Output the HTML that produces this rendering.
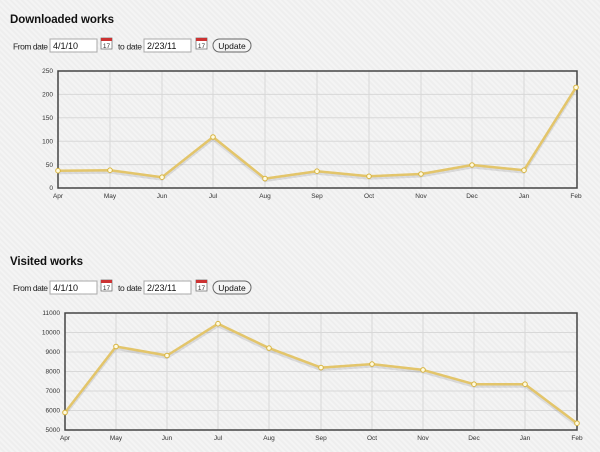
<!DOCTYPE html><html><head><style>
body{margin:0;width:600px;height:452px;overflow:hidden;background:#f1f1f1;background-image:repeating-linear-gradient(45deg,#f4f4f4 0 2px,#eeeeee 2px 4px);font-family:"Liberation Sans",sans-serif}
svg{position:absolute;left:0;top:0}
</style></head><body>
<svg width="600" height="452" xmlns="http://www.w3.org/2000/svg" font-family="Liberation Sans, sans-serif">
<defs><g id="cal"><rect x="0" y="0" width="11" height="11" fill="#fff" stroke="#777" stroke-width="0.8"/><rect x="0" y="0" width="11" height="3" fill="#c33"/><text x="5.5" y="9.8" font-size="6.5" text-anchor="middle" fill="#333">17</text></g></defs>
<text x="10" y="23" font-size="11.5" font-weight="bold" fill="#111" textLength="104">Downloaded works</text>
<text x="13" y="49.5" font-size="8.5" fill="#222" textLength="35">From date</text>
<rect x="50" y="39" width="47" height="13" fill="#fff" stroke="#aaa"/><text x="53" y="49" font-size="9" fill="#111">4/1/10</text>
<use href="#cal" x="101" y="38"/>
<text x="118" y="49.5" font-size="8.5" fill="#222" textLength="24">to date</text>
<rect x="144" y="39" width="47" height="13" fill="#fff" stroke="#aaa"/><text x="147" y="49" font-size="9" fill="#111">2/23/11</text>
<use href="#cal" x="196" y="38"/>
<rect x="213" y="39" width="38" height="13" rx="6.5" fill="#f4f4f4" stroke="#666"/><text x="232" y="49" font-size="8.5" text-anchor="middle" fill="#111">Update</text>

<text x="10" y="265" font-size="11.5" font-weight="bold" fill="#111" textLength="73">Visited works</text>
<text x="13" y="291" font-size="8.5" fill="#222" textLength="35">From date</text>
<rect x="50" y="281" width="47" height="13" fill="#fff" stroke="#aaa"/><text x="53" y="291" font-size="9" fill="#111">4/1/10</text>
<use href="#cal" x="101" y="280"/>
<text x="118" y="291" font-size="8.5" fill="#222" textLength="24">to date</text>
<rect x="144" y="281" width="47" height="13" fill="#fff" stroke="#aaa"/><text x="147" y="291" font-size="9" fill="#111">2/23/11</text>
<use href="#cal" x="196" y="280"/>
<rect x="213" y="281" width="38" height="13" rx="6.5" fill="#f4f4f4" stroke="#666"/><text x="232" y="291" font-size="8.5" text-anchor="middle" fill="#111">Update</text>

<!-- chart 1 -->
<g stroke="#d8d8d8" stroke-width="1">
<path d="M58 94.4H577M58 117.8H577M58 141.2H577M58 164.6H577"/>
<path d="M110 71V188M162 71V188M213 71V188M265 71V188M317 71V188M369 71V188M421 71V188M472 71V188M524 71V188"/>
</g>
<rect x="58" y="71" width="519" height="117" fill="none" stroke="#444" stroke-width="1.5"/>
<g font-size="6.5" fill="#333" text-anchor="end"><text x="53" y="73">250</text><text x="53" y="96.5">200</text><text x="53" y="120">150</text><text x="53" y="143.5">100</text><text x="53" y="167">50</text><text x="53" y="190">0</text></g>
<g font-size="6.5" fill="#333" text-anchor="middle"><text x="58" y="198">Apr</text><text x="110" y="198">May</text><text x="162" y="198">Jun</text><text x="213" y="198">Jul</text><text x="265" y="198">Aug</text><text x="317" y="198">Sep</text><text x="369" y="198">Oct</text><text x="421" y="198">Nov</text><text x="472" y="198">Dec</text><text x="524" y="198">Jan</text><text x="576" y="198">Feb</text></g>
<polyline points="58,172.7 110,172.2 162,179.2 213,139 265,180.6 317,173.2 369,178.3 421,176 472,167 524,172.2 576,89.4" fill="none" stroke="#000" stroke-opacity="0.1" stroke-width="3"/>
<polyline points="58,170.7 110,170.2 162,177.2 213,137 265,178.6 317,171.2 369,176.3 421,174 472,165 524,170.2 576,87.4" fill="none" stroke="#e3c56a" stroke-width="2.5" stroke-linejoin="round"/>
<g fill="#fffbe0" stroke="#d8b441" stroke-width="1"><circle cx="58" cy="170.7" r="2.3"/><circle cx="110" cy="170.2" r="2.3"/><circle cx="162" cy="177.2" r="2.3"/><circle cx="213" cy="137" r="2.3"/><circle cx="265" cy="178.6" r="2.3"/><circle cx="317" cy="171.2" r="2.3"/><circle cx="369" cy="176.3" r="2.3"/><circle cx="421" cy="174" r="2.3"/><circle cx="472" cy="165" r="2.3"/><circle cx="524" cy="170.2" r="2.3"/><circle cx="576" cy="87.4" r="2.3"/></g>

<!-- chart 2 -->
<g stroke="#d8d8d8" stroke-width="1">
<path d="M65 332.5H577M65 352H577M65 371.5H577M65 391H577M65 410.5H577"/>
<path d="M116 313V430M167 313V430M218 313V430M269 313V430M321 313V430M372 313V430M423 313V430M474 313V430M525 313V430"/>
</g>
<rect x="65" y="313" width="512" height="117" fill="none" stroke="#444" stroke-width="1.5"/>
<g font-size="6.5" fill="#333" text-anchor="end"><text x="60" y="315">11000</text><text x="60" y="334.5">10000</text><text x="60" y="354">9000</text><text x="60" y="373.5">8000</text><text x="60" y="393">7000</text><text x="60" y="412.5">6000</text><text x="60" y="432">5000</text></g>
<g font-size="6.5" fill="#333" text-anchor="middle"><text x="65" y="440">Apr</text><text x="116" y="440">May</text><text x="167" y="440">Jun</text><text x="218" y="440">Jul</text><text x="269" y="440">Aug</text><text x="321" y="440">Sep</text><text x="372" y="440">Oct</text><text x="423" y="440">Nov</text><text x="474" y="440">Dec</text><text x="525" y="440">Jan</text><text x="577" y="440">Feb</text></g>
<polyline points="65,414.5 116,348.5 167,357.5 218,325.7 269,350.1 321,369.6 372,366.1 423,371.9 474,386.2 525,386.2 577,425.2" fill="none" stroke="#000" stroke-opacity="0.1" stroke-width="3"/>
<polyline points="65,412.5 116,346.5 167,355.5 218,323.7 269,348.1 321,367.6 372,364.1 423,369.9 474,384.2 525,384.2 577,423.2" fill="none" stroke="#e3c56a" stroke-width="2.5" stroke-linejoin="round"/>
<g fill="#fffbe0" stroke="#d8b441" stroke-width="1"><circle cx="65" cy="412.5" r="2.3"/><circle cx="116" cy="346.5" r="2.3"/><circle cx="167" cy="355.5" r="2.3"/><circle cx="218" cy="323.7" r="2.3"/><circle cx="269" cy="348.1" r="2.3"/><circle cx="321" cy="367.6" r="2.3"/><circle cx="372" cy="364.1" r="2.3"/><circle cx="423" cy="369.9" r="2.3"/><circle cx="474" cy="384.2" r="2.3"/><circle cx="525" cy="384.2" r="2.3"/><circle cx="577" cy="423.2" r="2.3"/></g>
</svg>
</body></html>
